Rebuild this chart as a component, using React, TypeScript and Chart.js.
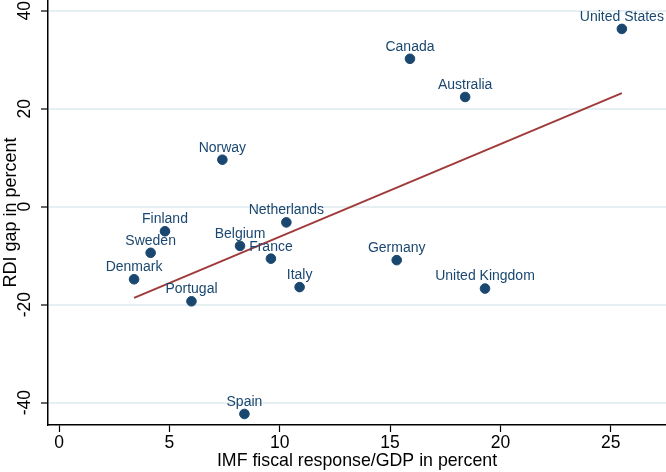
import { useEffect, useRef } from 'react';
import { Chart, registerables } from 'chart.js';
import type { Plugin, Scale } from 'chart.js';

Chart.register(...registerables);

const COUNTRIES = [
  'United States', 'Canada', 'Australia', 'Norway', 'Netherlands', 'Finland', 'Sweden',
  'Belgium', 'France', 'Denmark', 'Italy', 'Portugal', 'Spain', 'Germany', 'United Kingdom',
];
const FISCAL_RESPONSE = [25.5, 15.9, 18.4, 7.4, 10.3, 4.8, 4.15, 8.2, 9.6, 3.4, 10.9, 6.0, 8.4, 15.3, 19.3];
const RDI_GAP = [36.3, 30.2, 22.4, 9.6, -3.2, -5.0, -9.4, -8.0, -10.6, -14.8, -16.4, -19.3, -42.3, -10.9, -16.7];

const FIT_X = [3.4, 25.5];
const FIT_Y = [-18.6, 23.2];

const X_TICKS = [0, 5, 10, 15, 20, 25];
const Y_TICKS = [-40, -20, 0, 20, 40];

const NAVY = '#1a476f';
const FONT = 'Liberation Sans, Arial, Helvetica, sans-serif';

// drop the padding chart.js reserves for half-labels at the ends of the axes
const noPad = (s: Scale) => {
  s.paddingTop = 0;
  s.paddingBottom = 0;
  s.paddingLeft = 0;
  s.paddingRight = 0;
};

const pointLabels: Plugin<'scatter'> = {
  id: 'pointLabels',
  afterDatasetsDraw(chart) {
    const meta = chart.getDatasetMeta(0);
    const ctx = chart.ctx;
    ctx.save();
    ctx.font = `14px ${FONT}`;
    ctx.fillStyle = NAVY;
    ctx.textAlign = 'center';
    ctx.textBaseline = 'middle';
    meta.data.forEach((el, i) => {
      ctx.fillText(COUNTRIES[i], el.x, el.y - 12);
    });
    ctx.restore();
  },
};

export default function App() {
  const canvasRef = useRef<HTMLCanvasElement>(null);

  useEffect(() => {
    document.body.style.margin = '0';
    if (!canvasRef.current) return;

    const chart = new Chart(canvasRef.current, {
      type: 'scatter',
      data: {
        datasets: [
          {
            label: 'countries',
            data: FISCAL_RESPONSE.map((x, i) => ({ x, y: RDI_GAP[i] })),
            backgroundColor: NAVY,
            borderColor: NAVY,
            pointRadius: 4.8,
            pointHoverRadius: 4.8,
          },
          {
            label: 'fit',
            type: 'line',
            data: FIT_X.map((x, i) => ({ x, y: FIT_Y[i] })),
            borderColor: '#a03a3a',
            borderWidth: 2,
            pointRadius: 0,
            fill: false,
          } as any,
        ],
      },
      options: {
        responsive: false,
        animation: false,
        layout: { padding: 0, autoPadding: false },
        plugins: {
          legend: { display: false },
          tooltip: { enabled: false },
        },
        scales: {
          x: {
            type: 'linear',
            min: -0.5,
            max: 27.5,
            afterBuildTicks: (s) => { s.ticks = X_TICKS.map(value => ({ value })); },
            afterFit: (s) => { s.height = 47; noPad(s); },
            border: { color: '#000', width: 1.5 },
            grid: { drawOnChartArea: false, tickColor: '#000', tickLength: 7, tickWidth: 1.2 },
            ticks: { color: '#000', font: { size: 17.5, family: FONT }, padding: 1, maxRotation: 0 },
            title: {
              display: true,
              text: 'IMF fiscal response/GDP in percent',
              color: '#000',
              font: { size: 17.75, family: FONT },
              padding: { top: 0, bottom: 0 },
            },
          },
          y: {
            type: 'linear',
            min: -44.55,
            max: 42.2,
            afterBuildTicks: (s) => { s.ticks = Y_TICKS.map(value => ({ value })); },
            afterFit: (s) => { s.width = 48; noPad(s); },
            border: { color: '#000', width: 1.5 },
            grid: { color: '#e6eff2', lineWidth: 2, tickColor: '#000', tickLength: 7, tickWidth: 1.2 },
            ticks: {
              color: '#000',
              font: { size: 17.5, family: FONT },
              minRotation: 90,
              maxRotation: 90,
              crossAlign: 'center',
              padding: 3.5,
            },
            title: {
              display: true,
              text: 'RDI gap in percent',
              color: '#000',
              font: { size: 18, family: FONT },
              padding: { top: 0, bottom: 0 },
            },
          },
        },
      },
      plugins: [pointLabels],
    });

    return () => { chart.destroy(); };
  }, []);

  return (
    <div style={{ width: 666, height: 472, background: '#fff' }}>
      <canvas ref={canvasRef} width={666} height={472} style={{ display: 'block' }} />
    </div>
  );
}
